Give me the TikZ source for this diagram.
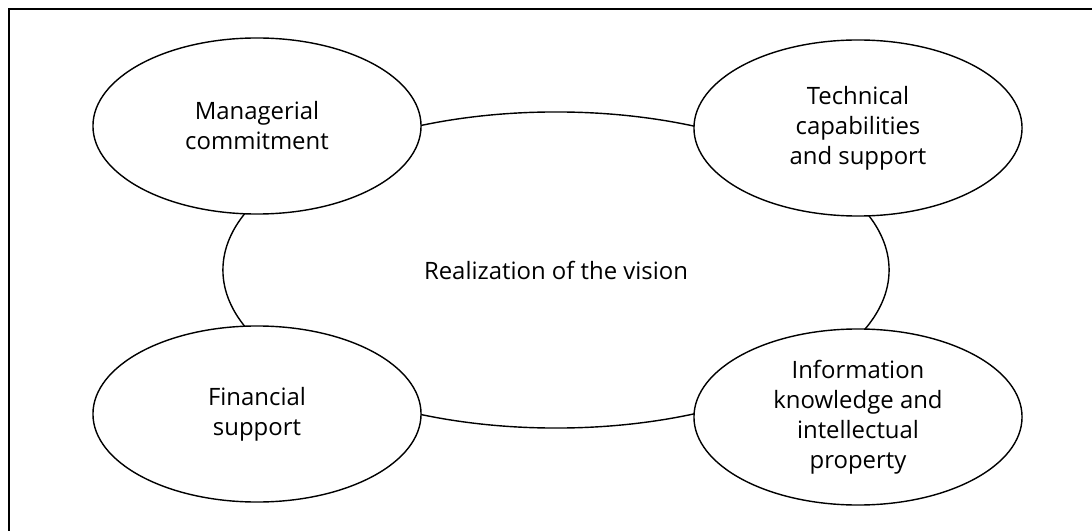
\documentclass[tikz,border=0pt]{standalone}
\usepackage{fontspec}
\setmainfont{Open Sans}
\usetikzlibrary{shapes.geometric}
\begin{document}
\begin{tikzpicture}[x=0.025cm,y=-0.025cm,
  label text/.style={font=\fontsize{17}{21.3}\selectfont, align=center, text=black},
  hub/.style={ellipse, draw=black, line width=1pt, inner sep=0pt,
    minimum width=16.65cm, minimum height=7.9cm, label text},
  factor/.style={ellipse, draw=black, fill=white, line width=1pt, inner sep=0pt,
    minimum width=8.2cm, minimum height=4.4cm, label text}]
  % page area
  \useasboundingbox (0,0) rectangle (1092,531);
  % open frame: top and left edges
  \draw[line width=1pt] (1092,9) -- (9,9) -- (9,531);
  % central goal
  \node[hub] (vision) at (556,270) {Realization of the vision};
  % four supporting factors
  \node[factor] (mgmt) at (257,126) {Managerial\\commitment};
  \node[factor] (tech) at (858,128) {Technical\\capabilities\\and support};
  \node[factor] (fin) at (257,414) {Financial\\support};
  \node[factor] (info) at (858,417) {Information\\knowledge and\\intellectual\\property};
\end{tikzpicture}
\end{document}
